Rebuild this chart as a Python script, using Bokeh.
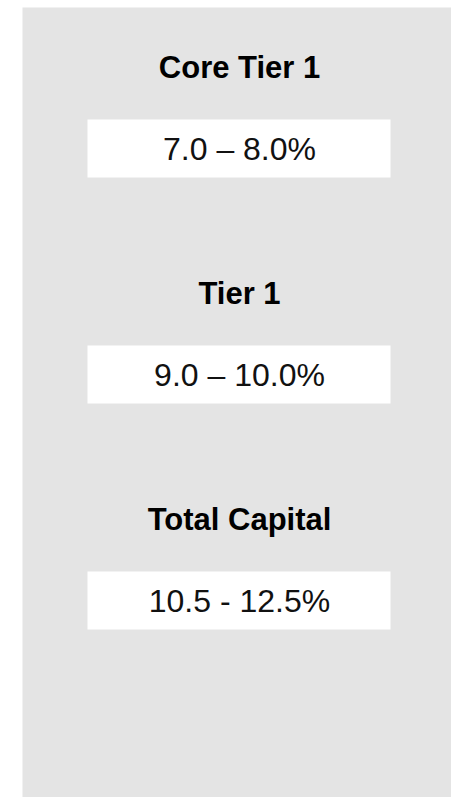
from bokeh.plotting import figure
from bokeh.models import ColumnDataSource, Range1d
from bokeh.core.properties import value
from bokeh.embed import file_html
from bokeh.resources import INLINE

# ---- data ----
categories = ["Core Tier 1", "Tier 1", "Total Capital"]
range_labels = ["7.0 \u2013 8.0%", "9.0 \u2013 10.0%", "10.5 - 12.5%"]

# ---- layout (pixels in frame space) ----
W, H = 451, 797
PAD_L, PAD_T = 22, 7
FRAME_W, FRAME_H = W - PAD_L, H - PAD_T
ROW0, PITCH = 112, 226
BOX_H = 58
BOX_L, BOX_R = 65, 368
CX = 217
TITLE_OFF = -52          # vertical centre of title caps, relative to box top
VALUE_OFF = BOX_H / 2    # value centred in its box

idx = list(range(len(categories)))
row_top = [ROW0 + PITCH * i for i in idx]

src = ColumnDataSource(dict(
    cat=categories,
    rng=range_labels,
    top=row_top,
    bottom=[t + BOX_H for t in row_top],
    left=[BOX_L] * len(idx),
    right=[BOX_R] * len(idx),
    cx=[CX] * len(idx),
    ty=[t + TITLE_OFF for t in row_top],
    vy=[t + VALUE_OFF for t in row_top],
))

p = figure(width=W, height=H, output_backend="svg", toolbar_location=None,
           x_range=Range1d(0, FRAME_W), y_range=Range1d(FRAME_H, 0),
           x_axis_type=None, y_axis_type=None,
           min_border_left=PAD_L, min_border_right=0,
           min_border_top=PAD_T, min_border_bottom=0)
p.grid.visible = False
p.outline_line_color = None
p.background_fill_color = "#e4e4e4"
p.border_fill_color = "white"

p.quad(left="left", right="right", top="top", bottom="bottom", source=src,
       fill_color="white", line_color=None)

p.text(x="cx", y="ty", text="cat", source=src,
       text_font=value("Liberation Sans"), text_font_style="bold",
       text_font_size="31px", text_align="center", text_baseline="middle",
       text_color="#000000")

p.text(x="cx", y="vy", text="rng", source=src,
       text_font=value("Liberation Sans"),
       text_font_size="32px", text_align="center", text_baseline="middle",
       text_color="#111111")

open("out.html", "w").write(file_html(p, INLINE))
